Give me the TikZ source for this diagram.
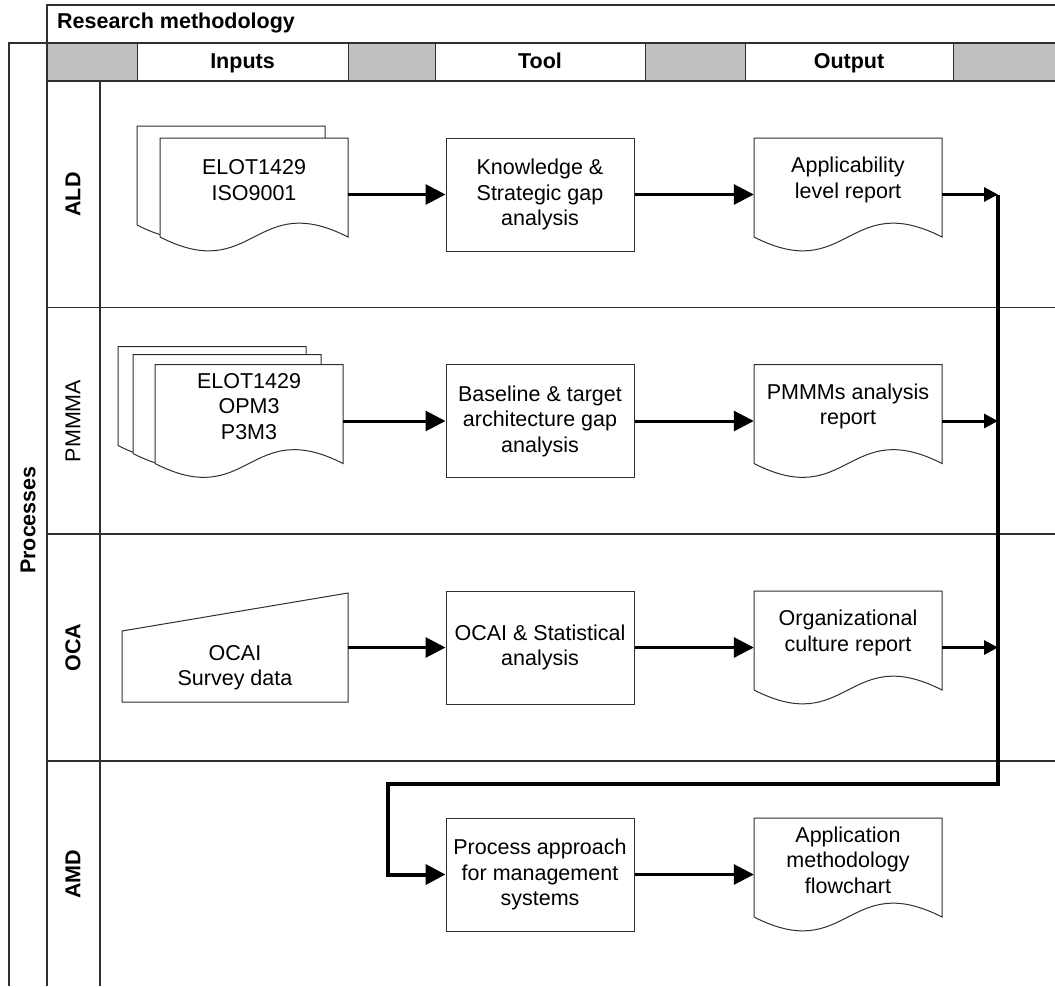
\documentclass[tikz,border=0pt]{standalone}
\usepackage{fontspec}
\setmainfont{Liberation Sans}
\usetikzlibrary{arrows.meta}
\definecolor{cellgray}{HTML}{C0C0C0}
\definecolor{linegray}{HTML}{303030}

% document symbol with a wavy lower edge: left x, top y
\newcommand\docpage[2]{%
  \path[shapeline] (#1,#2) -- (#1+188,#2) -- (#1+188,#2+99)
    .. controls (#1+94,#2+51) and (#1+94,#2+147) .. (#1,#2+99) -- cycle;}

\begin{document}
\begin{tikzpicture}[x=1pt,y=-1pt,
  lbl/.style={font=\fontsize{21.5}{25.5}\selectfont, align=center, inner sep=0pt},
  hdr/.style={font=\fontsize{21.5}{25.5}\selectfont\bfseries, inner sep=0pt},
  frame/.style={draw=linegray, line width=1.4pt},
  shapeline/.style={draw=linegray, line width=1pt, fill=white},
  toolbox/.style={shapeline, rectangle, minimum width=188pt, minimum height=113pt,
    inner sep=0pt, lbl},
  area/.style={rectangle, minimum width=188pt, minimum height=113pt, inner sep=0pt},
  flow/.style={line width=3pt, -{Triangle[length=20pt,width=20pt]}},
  feed/.style={line width=3pt, -{Triangle[length=14pt,width=14pt]}},
  bus/.style={line width=4pt, line join=miter, -{Triangle[length=20pt,width=20pt]}},
]
\useasboundingbox (0,0) rectangle (1055,986);
\fill[white] (0,0) rectangle (1055,986);

% ---- swimlane frame ----
\draw[frame] (47,986) -- (47,5) -- (1055,5);
\draw[frame] (9,986) -- (9,43) -- (1055,43);
\foreach \a/\b in {47/137, 348/435, 645/745, 953/1055}
  \path[draw=linegray, line width=1pt, fill=cellgray] (\a,43) rectangle (\b,81);
\draw[frame] (47,81) -- (1055,81);
\draw[frame] (100,81) -- (100,986);
\foreach \y in {307.5, 534, 761}
  \draw[frame] (47,\y) -- (1055,\y);

\node[hdr, anchor=base west] (title) at (57,28.5) {Research methodology};
\node[hdr, anchor=base] (hin) at (242.5,68.5) {Inputs};
\node[hdr, anchor=base] (htool) at (540,68.5) {Tool};
\node[hdr, anchor=base] (hout) at (849,68.5) {Output};

\node[hdr, rotate=90] (lproc) at (28,520) {Processes};
\node[hdr, rotate=90] (lald) at (73,194.5) {ALD};
\node[lbl, rotate=90] (lpm) at (73,421) {PMMMA};
\node[hdr, rotate=90] (loca) at (73,647.5) {OCA};
\node[hdr, rotate=90] (lamd) at (73,874.5) {AMD};

% ---- ALD ----
\docpage{137}{126}
\docpage{160}{138}
\node[area] (aldin) at (254,194.5) {};
\node[lbl] (aldintxt) at (254,180) {ELOT1429\\ISO9001};
\node[toolbox] (aldtool) at (540,194.5) {Knowledge \&\\Strategic gap\\analysis};
\docpage{754}{138}
\node[area] (aldout) at (848,194.5) {};
\node[lbl] (aldouttxt) at (848,180) {Applicability\\level report};

% ---- PMMMA ----
\docpage{118}{346.5}
\docpage{133}{354.5}
\docpage{155}{364.5}
\node[area] (pmin) at (249,421) {};
\node[lbl] (pmintxt) at (249,406.5) {ELOT1429\\OPM3\\P3M3};
\node[toolbox] (pmtool) at (540,421) {Baseline \& target\\architecture gap\\analysis};
\docpage{754}{364.5}
\node[area] (pmout) at (848,421) {};
\node[lbl] (pmouttxt) at (848,406.5) {PMMMs analysis\\report};

% ---- OCA ----
\path[shapeline] (122,631) -- (348,593) -- (348,702) -- (122,702) -- cycle;
\node[area, minimum width=226pt] (ocain) at (235,647.5) {};
\node[lbl] (ocaintxt) at (235,667.5) {OCAI\\Survey data};
\node[toolbox] (ocatool) at (540,647.5) {OCAI \& Statistical\\analysis};
\docpage{754}{591}
\node[area] (ocaout) at (848,647.5) {};
\node[lbl] (ocaouttxt) at (848,633) {Organizational\\culture report};

% ---- AMD ----
\node[toolbox] (amdtool) at (540,874.5) {Process approach\\for management\\systems};
\docpage{754}{818}
\node[area] (amdout) at (848,874.5) {};
\node[lbl] (amdouttxt) at (848,860) {Application\\methodology\\flowchart};

% ---- connectors ----
\coordinate (bus) at (998,194.5);
\coordinate (buscorner) at (998,784);
\coordinate (busleft) at (388,784);

\draw[flow] (aldin.east) -- (aldtool.west);
\draw[flow] (aldtool.east) -- (aldout.west);
\draw[flow] (pmin.east) -- (pmtool.west);
\draw[flow] (pmtool.east) -- (pmout.west);
\draw[flow] (ocain.east) -- (ocatool.west);
\draw[flow] (ocatool.east) -- (ocaout.west);
\draw[flow] (amdtool.east) -- (amdout.west);

\draw[feed] (aldout.east) -- (aldout.east -| bus);
\draw[feed] (pmout.east) -- (pmout.east -| bus);
\draw[feed] (ocaout.east) -- (ocaout.east -| bus);

\draw[bus] (bus) -- (buscorner) -- (busleft) |- (amdtool.west);
\end{tikzpicture}
\end{document}
